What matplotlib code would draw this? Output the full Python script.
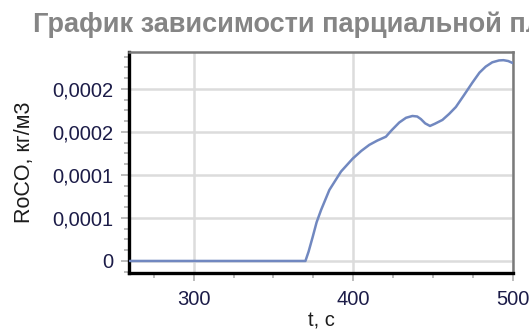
import matplotlib
matplotlib.use("Agg")
import matplotlib.pyplot as plt
from matplotlib.ticker import MultipleLocator, FixedLocator, FixedFormatter

# ---- data ----
t = [260, 300, 340, 370, 372, 374.6, 377, 379.8, 385, 392.3, 399.6, 405, 410,
     415, 420.4, 424, 428.75, 433, 437, 440, 442.3, 445, 448, 451, 455.8,
     460, 464.2, 469, 474.6, 479, 482.9, 487, 491.25, 494, 497, 500]
roco = [0, 0, 0, 0, 0.000011, 0.0000283, 0.000045, 0.0000593, 0.0000826,
        0.000104, 0.000119, 0.000128, 0.000135, 0.00014, 0.0001445, 0.000152,
        0.000161, 0.0001665, 0.0001686, 0.000168, 0.000165, 0.00016, 0.000157,
        0.0001595, 0.000164, 0.000171, 0.000179, 0.000192, 0.0002075,
        0.000219, 0.000226, 0.000231, 0.0002332, 0.0002335, 0.0002325, 0.00023]
x_ticks = [300, 400, 500]
y_ticks = [0, 0.00005, 0.0001, 0.00015, 0.0002]
y_tick_labels = ["0", "0,0001", "0,0001", "0,0002", "0,0002"]
title = "График зависимости парциальной плотности CO"
xlabel = "t, c"
ylabel = "RoCO, кг/м3"

plt.rcParams['font.family'] = ['Liberation Sans', 'DejaVu Sans']

W, H = 529, 333
fig = plt.figure(figsize=(W / 100, H / 100), dpi=100)
ax = fig.add_axes([129 / W, 1 - 273 / H, (513 - 129) / W, (273 - 52) / H])

ax.plot(t, roco, color="#7188c0", lw=1.8, solid_joinstyle="round",
        solid_capstyle="round", zorder=3)

ax.set_xlim(259.5, 500)
ax.set_ylim(-0.000014, 0.000243)

ax.xaxis.set_major_locator(FixedLocator(x_ticks))
ax.xaxis.set_minor_locator(MultipleLocator(25))
ax.yaxis.set_major_locator(FixedLocator(y_ticks))
ax.yaxis.set_major_formatter(FixedFormatter(y_tick_labels))
ax.yaxis.set_minor_locator(MultipleLocator(0.0000125))

ax.grid(True, which="major", color="#dcdcdc", lw=1.8, zorder=0)

ax.tick_params(which="major", length=6, width=1.2, color="#b0b0b0",
               labelsize=14.5, labelcolor="#1c1c48", pad=5)
ax.tick_params(axis="x", which="major", pad=6)
ax.tick_params(which="minor", length=3.5, width=1.2, color="#b0b0b0")

for s in ["left", "bottom"]:
    ax.spines[s].set_color("black")
    ax.spines[s].set_linewidth(2.4)
for s in ["top", "right"]:
    ax.spines[s].set_color("#7a7a7a")
    ax.spines[s].set_linewidth(1.8)

ax.set_xlabel(xlabel, fontsize=14.5, color="#1c1c1c", labelpad=2)
ax.set_ylabel(ylabel, fontsize=15.5, color="#1c1c1c", labelpad=13)

# title runs off the right edge, as in the reference
fig.text(33 / W, 1 - 25 / H, title, fontsize=19.5, fontweight="bold",
         color="#858585", ha="left", va="center")

fig.savefig("out.png", dpi=100)
